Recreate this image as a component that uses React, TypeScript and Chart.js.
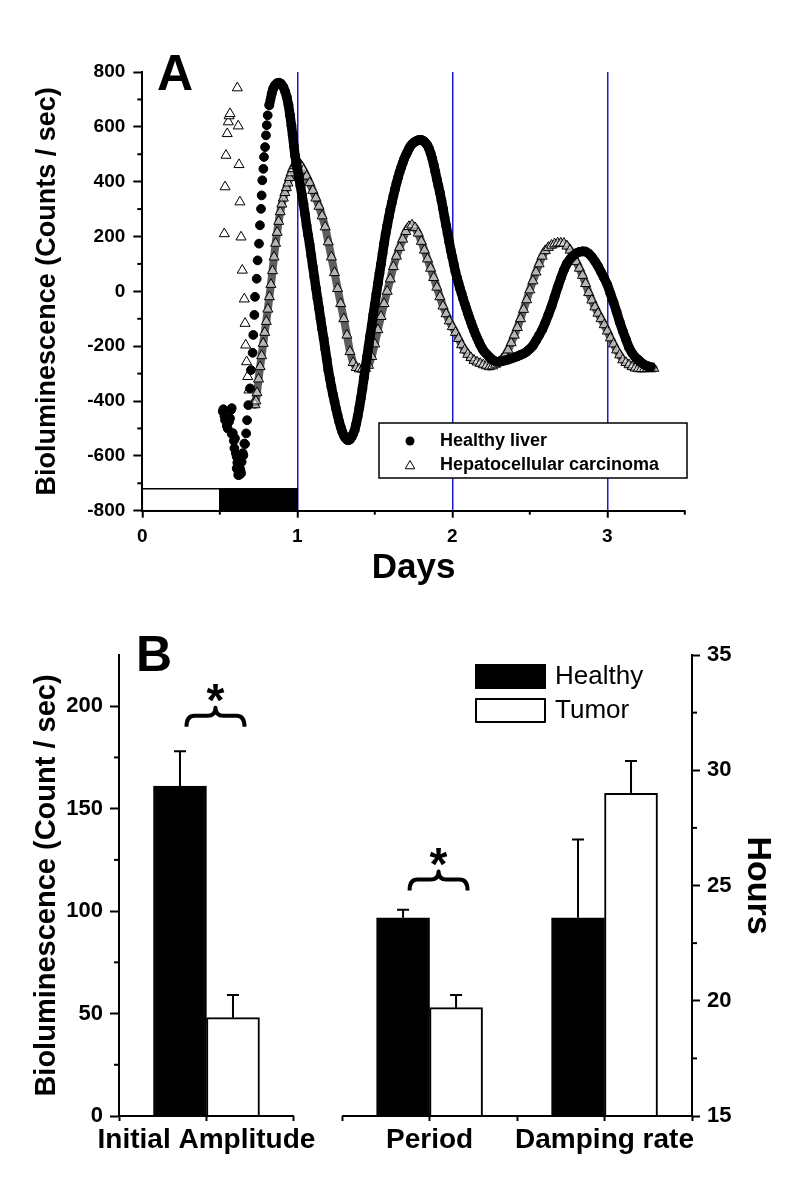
import React, { useEffect, useRef } from 'react';
import { Chart, registerables } from 'chart.js';

Chart.register(...registerables);

const FONT = '"Liberation Sans", Arial, Helvetica, sans-serif';
const BLACK = '#000000';
const WHITE = '#ffffff';
const BLUE = '#1a1acc';
const TUMOR_BAND = '#5e5e5e';
const TUMOR_FILL = 'rgba(255,255,255,0.55)';

// ================= Panel A data =================
const seriesLabels = ['Healthy liver', 'Hepatocellular carcinoma'];

// [day, counts/sec]
const healthyEarly: [number, number][] = [
  [0.519, -438], [0.523, -430], [0.530, -455], [0.534, -470], [0.545, -490], [0.551, -500], [0.560, -475],
  [0.566, -463], [0.573, -432], [0.577, -426], [0.577, -520], [0.584, -517], [0.590, -545], [0.594, -572],
  [0.598, -536], [0.603, -590], [0.609, -603], [0.609, -646], [0.613, -625], [0.616, -651], [0.619, -670],
  [0.622, -660], [0.627, -669], [0.630, -646], [0.634, -655], [0.637, -664], [0.641, -622], [0.645, -600],
  [0.648, -590], [0.652, -598], [0.658, -555], [0.663, -557], [0.670, -518], [0.676, -470], [0.684, -415],
  [0.695, -354], [0.701, -287], [0.712, -224], [0.716, -159], [0.723, -86], [0.727, -20], [0.738, 46],
  [0.744, 113], [0.753, 174], [0.759, 241], [0.766, 301], [0.770, 350], [0.774, 405], [0.781, 447],
  [0.785, 490], [0.792, 526], [0.798, 569], [0.803, 606], [0.809, 642],
];

const healthyMain: [number, number][] = [
  [0.819, 679], [0.835, 721], [0.845, 740], [0.856, 752], [0.868, 759], [0.882, 761], [0.895, 757], [0.910, 745],
  [0.922, 728], [0.932, 709], [0.943, 680], [0.953, 642], [0.962, 605], [0.970, 569], [0.978, 530], [0.985, 496],
  [0.993, 470], [1.000, 450], [1.010, 415], [1.020, 385], [1.030, 352], [1.040, 318], [1.050, 280], [1.060, 240],
  [1.070, 205], [1.080, 170], [1.090, 130], [1.100, 90], [1.110, 52], [1.120, 12], [1.130, -25], [1.140, -62],
  [1.150, -100], [1.160, -137], [1.170, -172], [1.180, -210], [1.190, -248], [1.200, -287], [1.210, -318],
  [1.220, -348], [1.230, -376], [1.240, -402], [1.250, -428], [1.260, -452], [1.270, -475], [1.280, -495],
  [1.290, -512], [1.300, -525], [1.310, -535], [1.320, -541], [1.330, -543], [1.340, -540], [1.350, -532],
  [1.360, -520], [1.370, -506], [1.380, -483], [1.390, -455], [1.400, -425], [1.410, -390], [1.420, -355],
  [1.430, -315], [1.440, -276], [1.450, -238], [1.460, -200], [1.470, -162], [1.480, -125], [1.490, -85],
  [1.500, -48], [1.510, -10], [1.520, 28], [1.530, 65], [1.540, 100], [1.550, 138], [1.560, 175], [1.570, 210],
  [1.580, 240], [1.590, 270], [1.600, 298], [1.610, 323], [1.620, 348], [1.630, 372], [1.640, 395], [1.650, 415],
  [1.660, 435], [1.670, 452], [1.680, 468], [1.690, 484], [1.700, 497], [1.710, 508], [1.720, 520], [1.730, 530],
  [1.740, 537], [1.750, 542], [1.760, 546], [1.770, 549], [1.780, 551], [1.790, 552], [1.800, 552], [1.810, 550],
  [1.820, 546], [1.830, 540], [1.840, 532], [1.850, 520], [1.860, 504], [1.870, 485], [1.880, 462], [1.890, 437],
  [1.900, 410], [1.910, 385], [1.920, 360], [1.930, 332], [1.940, 302], [1.950, 270], [1.960, 240], [1.970, 210],
  [1.980, 180], [1.990, 150], [2.000, 125], [2.010, 98], [2.020, 72], [2.030, 50], [2.040, 30], [2.050, 10],
  [2.060, -8], [2.070, -27], [2.080, -45], [2.090, -62], [2.100, -80], [2.110, -96], [2.120, -112], [2.130, -128],
  [2.140, -143], [2.150, -157], [2.160, -170], [2.170, -182], [2.180, -195], [2.190, -205], [2.200, -215],
  [2.210, -222], [2.220, -228], [2.240, -240], [2.260, -250], [2.280, -256], [2.300, -257], [2.320, -255],
  [2.340, -252], [2.360, -249], [2.380, -245], [2.400, -241], [2.420, -237], [2.440, -232], [2.460, -227],
  [2.480, -220], [2.500, -210], [2.520, -198], [2.540, -180], [2.560, -160], [2.580, -140], [2.600, -114],
  [2.620, -85], [2.640, -55], [2.660, -20], [2.680, 15], [2.700, 48], [2.720, 78], [2.740, 102], [2.760, 118],
  [2.780, 130], [2.800, 139], [2.820, 144], [2.840, 146], [2.860, 145], [2.880, 138], [2.900, 126], [2.920, 110],
  [2.940, 92], [2.960, 70], [2.980, 48], [3.000, 25], [3.020, -8], [3.040, -40], [3.060, -75], [3.080, -112],
  [3.100, -145], [3.120, -175], [3.140, -205], [3.160, -225], [3.180, -240], [3.200, -250], [3.220, -260],
  [3.240, -268], [3.260, -273], [3.280, -276],
];

const tumorEarly: [number, number][] = [
  [0.529, 210], [0.534, 381], [0.540, 496], [0.548, 575], [0.555, 618], [0.560, 640], [0.566, 648],
  [0.613, 742], [0.619, 603], [0.624, 462], [0.630, 326], [0.637, 198], [0.645, 77], [0.658, -28],
  [0.663, -117], [0.667, -196], [0.673, -257], [0.680, -311], [0.688, -360],
];

const tumorMain: [number, number][] = [
  [0.720, -405], [0.727, -414], [0.733, -400], [0.740, -370], [0.750, -320], [0.760, -275], [0.770, -235],
  [0.780, -190], [0.790, -150], [0.800, -110], [0.810, -65], [0.820, -20], [0.830, 25], [0.840, 75], [0.850, 125],
  [0.860, 175], [0.870, 215], [0.880, 255], [0.890, 290], [0.900, 318], [0.910, 340], [0.920, 360], [0.930, 378],
  [0.940, 395], [0.950, 415], [0.960, 432], [0.970, 447], [0.980, 458], [0.990, 465], [1.000, 468], [1.010, 468],
  [1.020, 462], [1.030, 452], [1.040, 442], [1.060, 420], [1.080, 396], [1.100, 368], [1.120, 340], [1.140, 310],
  [1.160, 275], [1.180, 235], [1.200, 180], [1.220, 125], [1.240, 68], [1.260, 10], [1.280, -45], [1.300, -100],
  [1.320, -160], [1.340, -220], [1.360, -260], [1.380, -278], [1.400, -283], [1.420, -283], [1.440, -281],
  [1.460, -270], [1.480, -238], [1.500, -192], [1.520, -140], [1.540, -92], [1.560, -45], [1.580, 0], [1.600, 45],
  [1.620, 90], [1.640, 128], [1.660, 160], [1.680, 190], [1.700, 218], [1.720, 236], [1.740, 242], [1.760, 232],
  [1.780, 212], [1.800, 182], [1.820, 150], [1.840, 118], [1.860, 84], [1.880, 50], [1.900, 15], [1.920, -20],
  [1.940, -54], [1.960, -82], [1.980, -108], [2.000, -129], [2.020, -150], [2.040, -172], [2.060, -195],
  [2.080, -214], [2.100, -230], [2.120, -242], [2.140, -252], [2.160, -258], [2.180, -263], [2.200, -268],
  [2.220, -272], [2.240, -275], [2.260, -272], [2.280, -266], [2.300, -258], [2.320, -248], [2.340, -234],
  [2.360, -214], [2.380, -188], [2.400, -160], [2.420, -132], [2.440, -100], [2.460, -66], [2.480, -31],
  [2.500, 5], [2.520, 38], [2.540, 70], [2.560, 100], [2.580, 128], [2.600, 148], [2.620, 160], [2.640, 168],
  [2.660, 173], [2.680, 176], [2.700, 176], [2.720, 175], [2.740, 165], [2.760, 150], [2.780, 130], [2.800, 108],
  [2.820, 84], [2.840, 58], [2.860, 28], [2.880, -5], [2.900, -32], [2.920, -57], [2.940, -80], [2.960, -100],
  [2.980, -122], [3.000, -145], [3.020, -170], [3.040, -192], [3.060, -214], [3.080, -232], [3.100, -250],
  [3.120, -260], [3.140, -268], [3.160, -275], [3.180, -280], [3.200, -282], [3.220, -282], [3.240, -282],
  [3.260, -281], [3.280, -281], [3.300, -281],
];

const dayTicks = [0, 1, 2, 3];
const dayMinorTicks = [0.5, 1.5, 2.5, 3.5];
const dayGuides = [1, 2, 3];
const countTicks = [-800, -600, -400, -200, 0, 200, 400, 600, 800];
const countMinorTicks = [-700, -500, -300, -100, 100, 300, 500, 700];
const lightDark = [
  { from: 0, to: 0.5, dark: false },
  { from: 0.5, to: 1, dark: true },
];
const lightDarkTop = -720;

// ================= Panel B data =================
const categories = ['Initial Amplitude', 'Period', 'Damping rate'];
const categoryAxis = ['y', 'y2', 'y2'];
const categoryPositions = [1, 3.55, 5.55];
const categoryTicks = [0, 1, 2, 2.55, 3.55, 4.55, 5.55, 6.55];
const axisBreak = [2, 2.55];
const groupLabels = ['Healthy', 'Tumor'];
const healthyMeans = [161, 23.6, 23.6];
const healthyErrors = [17, 0.35, 3.4];
const tumorMeans = [48, 19.7, 29.0];
const tumorErrors = [11, 0.55, 1.4];
const amplitudeTicks = [0, 50, 100, 150, 200];
const amplitudeMinorTicks = [25, 75, 125, 175];
const hoursTicks = [15, 20, 25, 30, 35];
const hoursMinorTicks = [17.5, 22.5, 27.5, 32.5];
const significance = [
  { category: 0, level: 190 },
  { category: 1, level: 24.78 },
];

const toXY = (arr: [number, number][]) => arr.map(([x, y]) => ({ x, y }));
const font = (size: number, weight: string = 'bold') => ({ family: FONT, size, weight });

function minorTicks(id: string, spec: { scaleId: string; values: number[]; length: number }[]) {
  return {
    id,
    afterDraw(chart: any) {
      const ctx = chart.ctx;
      ctx.save();
      ctx.strokeStyle = BLACK;
      ctx.lineWidth = 2;
      spec.forEach((s) => {
        const scale = chart.scales[s.scaleId];
        s.values.forEach((v) => {
          const p = scale.getPixelForValue(v);
          ctx.beginPath();
          if (scale.isHorizontal()) {
            ctx.moveTo(p, scale.top);
            ctx.lineTo(p, scale.top + s.length);
          } else if (scale.position === 'left') {
            ctx.moveTo(scale.right, p);
            ctx.lineTo(scale.right - s.length, p);
          } else {
            ctx.moveTo(scale.left, p);
            ctx.lineTo(scale.left + s.length, p);
          }
          ctx.stroke();
        });
      });
      ctx.restore();
    },
  };
}

function drawTriangle(ctx: CanvasRenderingContext2D, x: number, y: number, r: number) {
  ctx.beginPath();
  for (let k = 0; k < 3; k++) {
    const a = (k * 2 * Math.PI) / 3;
    const px = x + Math.sin(a) * r;
    const py = y - Math.cos(a) * r;
    if (k === 0) ctx.moveTo(px, py);
    else ctx.lineTo(px, py);
  }
  ctx.closePath();
}

function buildChartA(canvas: HTMLCanvasElement) {
  const decor = {
    id: 'panelADecor',
    afterDatasetsDraw(chart: any) {
      const { ctx } = chart;
      const xs = chart.scales.x;
      const ys = chart.scales.y;
      ctx.save();
      const top = ys.getPixelForValue(lightDarkTop);
      const bottom = ys.getPixelForValue(ys.min);
      lightDark.forEach((b) => {
        const x0 = xs.getPixelForValue(b.from);
        const x1 = xs.getPixelForValue(b.to);
        ctx.fillStyle = b.dark ? BLACK : WHITE;
        ctx.fillRect(x0, top, x1 - x0, bottom - top);
        ctx.strokeStyle = BLACK;
        ctx.lineWidth = 1.5;
        ctx.strokeRect(x0, top, x1 - x0, bottom - top);
      });
      ctx.restore();
    },
    afterDraw(chart: any) {
      const { ctx } = chart;
      ctx.save();
      ctx.fillStyle = BLACK;
      ctx.font = `bold 50px ${FONT}`;
      ctx.textBaseline = 'alphabetic';
      ctx.textAlign = 'left';
      ctx.fillText('A', 157, 90);
      const lx = 379, ly = 423, lw = 308, lh = 55;
      ctx.fillStyle = WHITE;
      ctx.fillRect(lx, ly, lw, lh);
      ctx.strokeStyle = BLACK;
      ctx.lineWidth = 1.5;
      ctx.strokeRect(lx, ly, lw, lh);
      ctx.font = `bold 18px ${FONT}`;
      ctx.textBaseline = 'middle';
      ctx.fillStyle = BLACK;
      ctx.beginPath();
      ctx.arc(410, 441, 4.5, 0, Math.PI * 2);
      ctx.fill();
      ctx.fillText(seriesLabels[0], 440, 441);
      ctx.fillStyle = WHITE;
      drawTriangle(ctx, 410, 466, 5.5);
      ctx.fill();
      ctx.lineWidth = 1;
      ctx.stroke();
      ctx.fillStyle = BLACK;
      ctx.fillText(seriesLabels[1], 440, 465);
      ctx.restore();
    },
  };

  const healthyPoint = {
    pointStyle: 'circle',
    pointRadius: 4.4,
    pointBorderWidth: 1,
    pointBackgroundColor: BLACK,
    pointBorderColor: BLACK,
    backgroundColor: BLACK,
  };
  const tumorPoint = {
    pointStyle: 'triangle',
    pointRadius: 5.8,
    pointBorderWidth: 1,
    pointBackgroundColor: WHITE,
    pointBorderColor: BLACK,
    backgroundColor: WHITE,
  };

  return new Chart(canvas, {
    type: 'scatter',
    data: {
      datasets: [
        {
          label: seriesLabels[0],
          data: toXY(healthyMain),
          showLine: true,
          borderColor: BLACK,
          borderWidth: 9.5,
          borderJoinStyle: 'round',
          borderCapStyle: 'round',
          tension: 0,
          ...healthyPoint,
        },
        { label: seriesLabels[0], data: toXY(healthyEarly), showLine: false, ...healthyPoint },
        {
          label: seriesLabels[1],
          data: toXY(tumorMain),
          showLine: true,
          borderColor: TUMOR_BAND,
          borderWidth: 8,
          borderJoinStyle: 'round',
          borderCapStyle: 'round',
          tension: 0,
          ...tumorPoint,
          pointBackgroundColor: TUMOR_FILL,
          backgroundColor: TUMOR_FILL,
        },
        { label: seriesLabels[1], data: toXY(tumorEarly), showLine: false, ...tumorPoint },
      ],
    } as any,
    options: {
      responsive: false,
      animation: false,
      devicePixelRatio: 1,
      events: [],
      layout: { padding: { left: 0, top: 72, right: 110.2, bottom: 0 } },
      plugins: { legend: { display: false }, tooltip: { enabled: false } },
      scales: {
        x: {
          type: 'linear',
          min: 0,
          max: 3.5,
          afterBuildTicks: (s: any) => {
            s.ticks = dayTicks.map((v) => ({ value: v }));
          },
          afterFit: (s: any) => {
            s.height = 89.3;
          },
          ticks: {
            font: font(19),
            color: BLACK,
            padding: 8,
            maxRotation: 0,
            autoSkip: false,
            callback: (v: any) => String(v),
          },
          grid: {
            drawOnChartArea: true,
            color: (c: any) => (c.tick && dayGuides.includes(c.tick.value) ? BLUE : 'rgba(0,0,0,0)'),
            lineWidth: 1.5,
            tickColor: BLACK,
            tickLength: 7,
            tickWidth: 2,
          },
          border: { display: true, color: BLACK, width: 2 },
          title: {
            display: true,
            text: 'Days',
            color: BLACK,
            font: font(35),
            padding: { top: 0, bottom: 11 },
          },
        },
        y: {
          type: 'linear',
          min: -800,
          max: 800,
          afterBuildTicks: (s: any) => {
            s.ticks = countTicks.map((v) => ({ value: v }));
          },
          afterFit: (s: any) => {
            s.width = 142.3;
          },
          ticks: { font: font(19), color: BLACK, padding: 8, callback: (v: any) => String(v) },
          grid: { drawOnChartArea: false, tickColor: BLACK, tickLength: 9, tickWidth: 2 },
          border: { display: true, color: BLACK, width: 2 },
          title: {
            display: true,
            text: 'Bioluminescence (Counts / sec)',
            color: BLACK,
            font: font(27),
            padding: { top: 31.8, bottom: 0 },
          },
        },
      },
    } as any,
    plugins: [
      decor,
      minorTicks('panelAMinor', [
        { scaleId: 'x', values: dayMinorTicks, length: 4 },
        { scaleId: 'y', values: countMinorTicks, length: 5 },
      ]),
    ],
  });
}

function buildChartB(canvas: HTMLCanvasElement) {
  const groups = [
    { label: groupLabels[0], means: healthyMeans, errors: healthyErrors, fill: BLACK, stack: 'healthy' },
    { label: groupLabels[1], means: tumorMeans, errors: tumorErrors, fill: WHITE, stack: 'tumor' },
  ];
  const datasets: any[] = [];
  groups.forEach((g) => {
    ['y', 'y2'].forEach((axis) => {
      const idx = categories.map((_, i) => i).filter((i) => categoryAxis[i] === axis);
      datasets.push({
        label: g.label,
        data: idx.map((i) => ({ x: categoryPositions[i], y: g.means[i] })),
        errors: idx.map((i) => g.errors[i]),
        yAxisID: axis,
        stack: g.stack,
        base: axis === 'y' ? amplitudeTicks[0] : hoursTicks[0],
        backgroundColor: g.fill,
        borderColor: BLACK,
        borderWidth: 2,
        borderSkipped: 'start',
        barThickness: 53,
      });
    });
  });

  const decor = {
    id: 'panelBDecor',
    afterDatasetsDraw(chart: any) {
      const { ctx } = chart;
      ctx.save();
      ctx.strokeStyle = BLACK;
      ctx.lineWidth = 2;
      chart.data.datasets.forEach((ds: any, di: number) => {
        const meta = chart.getDatasetMeta(di);
        const scale = chart.scales[ds.yAxisID];
        meta.data.forEach((bar: any, i: number) => {
          const topPx = scale.getPixelForValue(ds.data[i].y + ds.errors[i]);
          ctx.beginPath();
          ctx.moveTo(bar.x, bar.y);
          ctx.lineTo(bar.x, topPx);
          ctx.moveTo(bar.x - 6, topPx);
          ctx.lineTo(bar.x + 6, topPx);
          ctx.stroke();
        });
      });
      ctx.restore();
    },
    afterDraw(chart: any) {
      const { ctx, chartArea } = chart;
      const xs = chart.scales.x;
      ctx.save();
      ctx.strokeStyle = BLACK;
      ctx.lineWidth = 2;
      ctx.beginPath();
      ctx.moveTo(xs.getPixelForValue(xs.min) - 1, chartArea.bottom);
      ctx.lineTo(xs.getPixelForValue(axisBreak[0]), chartArea.bottom);
      ctx.moveTo(xs.getPixelForValue(axisBreak[1]), chartArea.bottom);
      ctx.lineTo(xs.getPixelForValue(xs.max) + 1, chartArea.bottom);
      ctx.stroke();

      significance.forEach((s) => {
        const scale = chart.scales[categoryAxis[s.category]];
        const xc = xs.getPixelForValue(categoryPositions[s.category]) + 9;
        const xl = xc - 29;
        const xr = xc + 29;
        const yb = scale.getPixelForValue(s.level);
        const ym = yb - 11;
        const yt = yb - 19;
        const r = 8;
        ctx.lineWidth = 4;
        ctx.lineJoin = 'round';
        ctx.lineCap = 'butt';
        ctx.beginPath();
        ctx.moveTo(xl, yb);
        ctx.quadraticCurveTo(xl, ym, xl + r, ym);
        ctx.lineTo(xc - r, ym);
        ctx.quadraticCurveTo(xc, ym, xc, yt);
        ctx.quadraticCurveTo(xc, ym, xc + r, ym);
        ctx.lineTo(xr - r, ym);
        ctx.quadraticCurveTo(xr, ym, xr, yb);
        ctx.stroke();
        ctx.fillStyle = BLACK;
        ctx.font = `bold 46px ${FONT}`;
        ctx.textAlign = 'center';
        ctx.textBaseline = 'alphabetic';
        ctx.fillText('*', xc, yt - 17 + 25);
      });

      ctx.textAlign = 'left';
      ctx.lineWidth = 2;
      ctx.fillStyle = BLACK;
      ctx.fillRect(475, 64, 71, 25);
      ctx.fillStyle = WHITE;
      ctx.fillRect(476, 99, 69, 23);
      ctx.strokeStyle = BLACK;
      ctx.strokeRect(476, 99, 69, 23);
      ctx.fillStyle = BLACK;
      ctx.font = `26px ${FONT}`;
      ctx.textBaseline = 'middle';
      ctx.fillText(groupLabels[0], 555, 77);
      ctx.fillText(groupLabels[1], 555, 111);

      ctx.font = `bold 50px ${FONT}`;
      ctx.textBaseline = 'alphabetic';
      ctx.fillText('B', 136, 71);
      ctx.restore();
    },
  };

  return new Chart(canvas, {
    type: 'bar',
    data: { datasets },
    options: {
      responsive: false,
      animation: false,
      devicePixelRatio: 1,
      events: [],
      layout: { padding: { left: 0, top: 55, right: 0, bottom: 0 } },
      plugins: { legend: { display: false }, tooltip: { enabled: false } },
      scales: {
        x: {
          type: 'linear',
          min: categoryTicks[0],
          max: categoryTicks[categoryTicks.length - 1],
          offset: false,
          afterBuildTicks: (s: any) => {
            s.ticks = categoryTicks.map((v) => ({ value: v }));
          },
          afterFit: (s: any) => {
            s.height = 84;
          },
          ticks: {
            font: font(28),
            color: BLACK,
            padding: 2,
            autoSkip: false,
            maxRotation: 0,
            minRotation: 0,
            callback: (v: any) => {
              const i = categoryPositions.findIndex((p) => Math.abs(p - Number(v)) < 1e-6);
              return i >= 0 ? categories[i] : '';
            },
          },
          grid: { drawOnChartArea: false, offset: false, tickColor: BLACK, tickLength: 5, tickWidth: 2 },
          border: { display: false },
        },
        y: {
          type: 'linear',
          position: 'left',
          min: 0,
          max: 225,
          afterBuildTicks: (s: any) => {
            s.ticks = amplitudeTicks.map((v) => ({ value: v }));
          },
          afterFit: (s: any) => {
            s.width = 119;
          },
          ticks: { font: font(22), color: BLACK, padding: 7 },
          grid: { drawOnChartArea: false, tickColor: BLACK, tickLength: 9, tickWidth: 2 },
          border: { display: true, color: BLACK, width: 2 },
          title: {
            display: true,
            text: 'Bioluminescence (Count / sec)',
            color: BLACK,
            font: font(29),
            padding: { top: 29.6, bottom: 0 },
          },
        },
        y2: {
          type: 'linear',
          position: 'right',
          min: 15,
          max: 35,
          afterBuildTicks: (s: any) => {
            s.ticks = hoursTicks.map((v) => ({ value: v }));
          },
          afterFit: (s: any) => {
            s.width = 103;
          },
          ticks: { font: font(22), color: BLACK, padding: 7 },
          grid: { drawOnChartArea: false, tickColor: BLACK, tickLength: 8, tickWidth: 2 },
          border: { display: true, color: BLACK, width: 2 },
          title: {
            display: true,
            text: 'Hours',
            color: BLACK,
            font: font(34),
            padding: { top: 17.6, bottom: 0 },
          },
        },
      },
    } as any,
    plugins: [
      decor,
      minorTicks('panelBMinor', [
        { scaleId: 'y', values: amplitudeMinorTicks, length: 5 },
        { scaleId: 'y2', values: hoursMinorTicks, length: 5 },
      ]),
    ],
  });
}

export default function App() {
  const refA = useRef<HTMLCanvasElement>(null);
  const refB = useRef<HTMLCanvasElement>(null);

  useEffect(() => {
    const a = buildChartA(refA.current as HTMLCanvasElement);
    const b = buildChartB(refB.current as HTMLCanvasElement);
    return () => {
      a.destroy();
      b.destroy();
    };
  }, []);

  return (
    <div style={{ position: 'absolute', left: 0, top: 0, width: 795, height: 1200, background: WHITE }}>
      <canvas
        ref={refA}
        width={795}
        height={600}
        style={{ position: 'absolute', left: 0, top: 0, width: 795, height: 600 }}
      />
      <canvas
        ref={refB}
        width={795}
        height={600}
        style={{ position: 'absolute', left: 0, top: 600, width: 795, height: 600 }}
      />
    </div>
  );
}
